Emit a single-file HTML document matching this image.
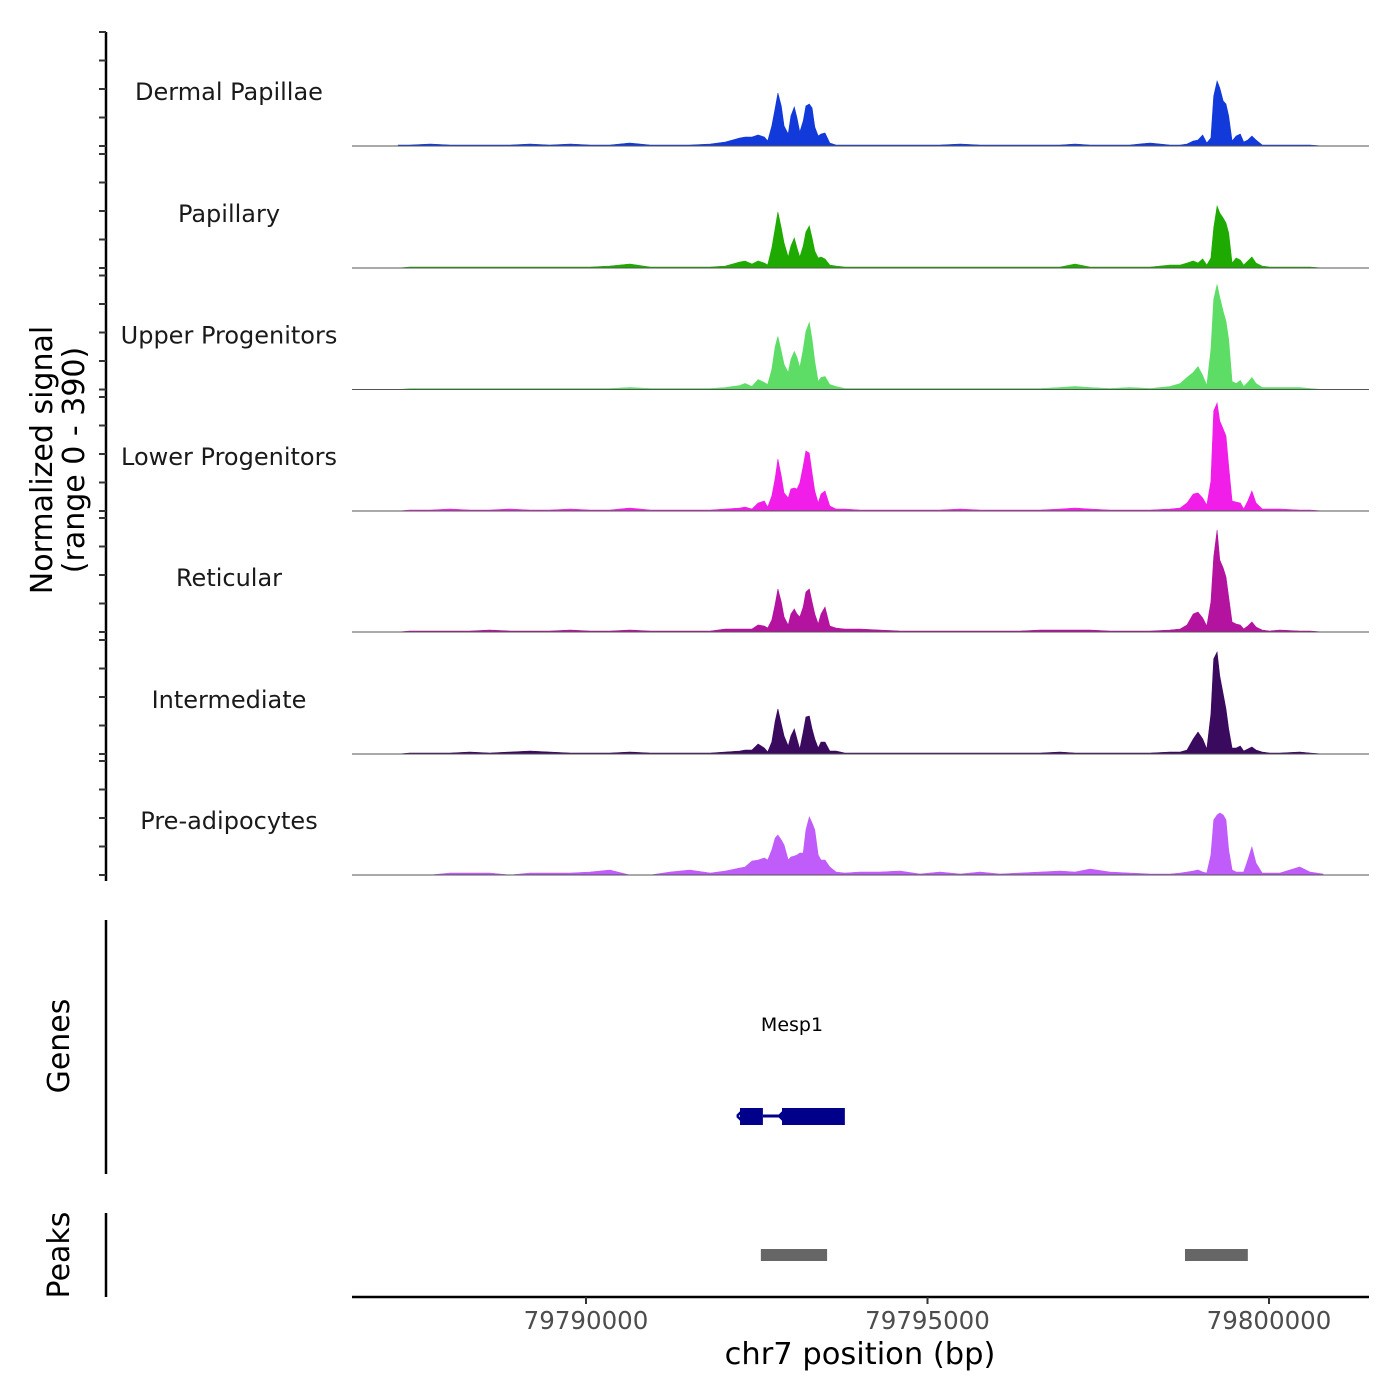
<!DOCTYPE html>
<html><head><meta charset="utf-8"><style>
html,body{margin:0;padding:0;background:#fff;}
svg{display:block;font-family:"DejaVu Sans","Liberation Sans",sans-serif;}
</style></head><body>
<svg id="chart" width="1400" height="1400" viewBox="0 0 1400 1400">
<g id="tracks"></g>
<g id="axes"></g>
<text x="52" y="460" font-size="30" text-anchor="middle" transform="rotate(-90 52 460)">Normalized signal</text>
<text x="84" y="460" font-size="30" text-anchor="middle" transform="rotate(-90 84 460)">(range 0 - 390)</text>
<text x="69" y="1046" font-size="30" text-anchor="middle" transform="rotate(-90 69 1046)">Genes</text>
<text x="69" y="1255" font-size="30" text-anchor="middle" transform="rotate(-90 69 1255)">Peaks</text>
<line x1="106" y1="920" x2="106" y2="1174" stroke="#000" stroke-width="2.5"/>
<line x1="106" y1="1213" x2="106" y2="1297" stroke="#000" stroke-width="2.5"/>
<text x="860" y="1364" font-size="30.5" text-anchor="middle">chr7 position (bp)</text>
</svg>
<script>
// genomic positions (bp) shared by all tracks
const positions = [79787250,79787420,79787720,79788010,79788300,79788590,79788890,79789180,79789470,79789770,79790060,79790350,79790640,79790940,79791230,79791520,79791820,79792040,
79792250,79792330,79792430,79792520,79792610,79792660,79792720,79792770,79792810,79792860,79792900,79792960,79793000,79793050,79793090,79793130,79793180,79793220,79793270,79793310,79793350,79793400,79793440,79793500,79793570,79793660,79793790,
79794010,79794300,79794600,79794890,79795180,79795480,79795770,79796060,79796350,79796650,79796940,79797160,79797380,79797670,79797960,79798260,79798550,
79798700,79798800,79798890,79798960,79799030,79799090,79799150,79799190,79799240,79799280,79799330,79799370,79799410,79799460,79799520,79799580,79799630,79799690,79799750,79799810,79799900,
79800010,79800160,79800450,79800600,79800790];
const trackNames = ["Dermal Papillae","Papillary","Upper Progenitors","Lower Progenitors","Reticular","Intermediate","Pre-adipocytes"];
const trackColors = ["#1239d9","#1eaa00","#5ddd66","#f01ee8","#b3139f","#3a0a5e","#c05cfa"];
const dermalPapillae = [1,1,2,1,1,1,1,2,1,2,1,1,3,1,1,1,2,4,
8,9,9,11,9,5,20,38,53,40,20,12,30,39,28,14,25,40,42,38,19,10,12,13,3,1,1,
1,1,1,1,1,2,1,1,1,1,1,2,1,1,1,3,1,
1,2,5,6,11,3,8,50,65,58,45,42,30,5,10,12,4,6,10,6,1,
1,1,1,1,0];
const papillary = [0,1,1,1,1,1,1,1,1,1,1,2,4,1,1,1,1,2,
6,7,4,7,5,3,20,40,56,40,25,11,22,30,20,11,22,36,42,30,17,10,11,9,3,2,1,
1,1,1,1,1,1,1,1,1,1,1,4,1,1,1,1,3,
3,5,7,5,9,3,10,40,62,55,50,45,35,5,10,8,3,7,11,5,2,
1,1,1,1,0];
const upperProgenitors = [0,1,1,1,1,1,1,1,1,1,1,1,2,1,1,1,1,2,
4,6,3,10,7,5,20,43,53,38,25,17,30,38,32,22,40,58,67,50,28,8,12,13,5,3,1,
1,1,1,1,1,1,1,1,1,1,2,3,2,1,2,1,3,
6,12,17,23,14,4,40,90,105,92,78,68,50,8,6,9,3,7,12,6,2,
2,2,2,1,0];
const lowerProgenitors = [0,1,1,2,1,1,2,1,1,2,1,1,3,1,1,1,1,2,
3,4,2,8,10,4,15,33,52,35,18,13,22,23,22,28,45,60,58,38,20,8,17,20,5,2,2,
1,1,1,1,1,2,1,1,1,1,2,3,2,1,1,1,2,
3,8,17,18,13,6,30,100,108,90,82,75,45,10,9,8,2,10,20,8,2,
2,2,1,1,0];
const reticular = [0,1,1,1,1,2,1,1,1,2,1,1,2,1,1,1,1,3,
3,3,3,7,6,4,12,28,43,30,15,7,18,23,18,15,25,40,43,30,18,8,18,25,6,4,3,
3,2,1,1,1,1,1,1,1,2,2,2,2,1,1,1,2,
3,7,18,20,14,6,30,75,102,72,64,55,35,10,8,7,3,6,10,5,2,
1,2,1,1,0];
const intermediate = [0,1,1,1,2,1,2,3,2,1,1,1,2,1,1,1,1,2,
3,4,4,10,6,2,12,33,45,30,18,8,18,25,15,5,22,37,38,25,15,6,12,12,3,3,1,
1,1,1,1,1,1,1,1,1,1,2,1,1,1,1,1,2,
2,4,15,22,15,5,40,95,102,78,60,45,25,6,6,8,3,5,7,4,2,
1,1,2,1,0];
const preAdipocytes = [0,0,0,2,2,2,0,2,2,2,3,5,0,0,3,5,2,4,
7,8,14,15,17,15,25,37,40,35,30,15,18,19,20,22,22,45,58,52,45,20,15,15,8,3,2,
3,3,4,1,3,1,3,1,2,3,4,3,6,3,2,1,1,
2,3,4,5,3,2,20,55,60,62,60,55,25,5,3,3,3,15,28,12,2,
2,2,8,3,1];
const trackValues = [dermalPapillae,papillary,upperProgenitors,lowerProgenitors,reticular,intermediate,preAdipocytes];
const yTicks = [0,100,200,300,400];
const xTicks = [79790000,79795000,79800000];
const xTickLabels = ["79790000","79795000","79800000"];
const geneExons = [[79792255,79792590],[79792870,79793790]];
const geneIntron = [79792590,79792870];
const peakRanges = [[79792560,79793530],[79798770,79799690]];

const NS = "http://www.w3.org/2000/svg";
const svg = document.getElementById("chart");
const tracksG = document.getElementById("tracks");
const axesG = document.getElementById("axes");
function xScale(bp){ return 586 + (bp - 79790000) * 0.06830; }
const trackBase = [146,268,389.5,511,632,754,875];
const pxPerUnit = 1.0;
function yScale(v, base){ return base - v * pxPerUnit; }
function tickY(t, base){ return base - t * 0.285; }
function mk(tag, attrs){ const e=document.createElementNS(NS,tag); for(const k in attrs) e.setAttribute(k,attrs[k]); return e; }

const spine = mk("line",{x1:106,y1:32,x2:106,y2:881,stroke:"#000","stroke-width":2.5});


axesG.appendChild(spine);

trackValues.forEach((vals, ti) => {
  const base = trackBase[ti];
  let d = "M" + xScale(positions[0]).toFixed(1) + "," + base;
  positions.forEach((p, i) => { d += " L" + xScale(p).toFixed(1) + "," + yScale(vals[i], base).toFixed(1); });
  d += " L" + xScale(positions[positions.length-1]).toFixed(1) + "," + base + " Z";
  const area = mk("path",{d:d,fill:trackColors[ti],stroke:trackColors[ti],"stroke-width":0.6});
  
  
  tracksG.appendChild(area);
  const bl = mk("line",{x1:352,y1:base,x2:1369,y2:base,stroke:"#555","stroke-width":1});
  
  
  tracksG.appendChild(bl);
  const lab = mk("text",{x:229,y:base-46,"font-size":24,"text-anchor":"middle",fill:"#1a1a1a"});
  lab.textContent = trackNames[ti];
  
  
  tracksG.appendChild(lab);
  yTicks.forEach(t => {
    const y = tickY(t, base);
    const tk = mk("line",{x1:99,y1:y,x2:106,y2:y,stroke:"#333","stroke-width":2});
    
    
    axesG.appendChild(tk);
  });
});

const gname = mk("text",{x:792,y:1031,"font-size":19,"text-anchor":"middle",fill:"#000"});
gname.textContent = "Mesp1";


svg.appendChild(gname);
const intron = mk("line",{x1:xScale(geneIntron[0]),y1:1116,x2:xScale(geneIntron[1]),y2:1116,stroke:"#00008b","stroke-width":3});


svg.appendChild(intron);
geneExons.forEach(ex => {
  const x0 = xScale(ex[0]), x1 = xScale(ex[1]);
  const r = mk("rect",{x:x0,y:1108,width:x1-x0,height:17,fill:"#00008b"});
  
  
  svg.appendChild(r);
  const a = mk("path",{d:"M"+(x0-3)+",1116 l6,-6 M"+(x0-3)+",1116 l6,6",stroke:"#00008b","stroke-width":2.5,fill:"none"});
  
  
  svg.appendChild(a);
});

peakRanges.forEach(pk => {
  const x0 = xScale(pk[0]), x1 = xScale(pk[1]);
  const r = mk("rect",{x:x0,y:1249,width:x1-x0,height:12,fill:"#666"});
  
  
  svg.appendChild(r);
});

const xl = mk("line",{x1:352,y1:1297,x2:1369,y2:1297,stroke:"#000","stroke-width":2.5});


axesG.appendChild(xl);
xTicks.forEach((t, i) => {
  const x = xScale(t);
  const tk = mk("line",{x1:x,y1:1297,x2:x,y2:1304,stroke:"#333","stroke-width":2});
  
  
  axesG.appendChild(tk);
  const tl = mk("text",{x:x,y:1329,"font-size":24.5,"text-anchor":"middle",fill:"#4d4d4d"});
  tl.textContent = xTickLabels[i];
  
  
  axesG.appendChild(tl);
});
</script>
</body></html>
